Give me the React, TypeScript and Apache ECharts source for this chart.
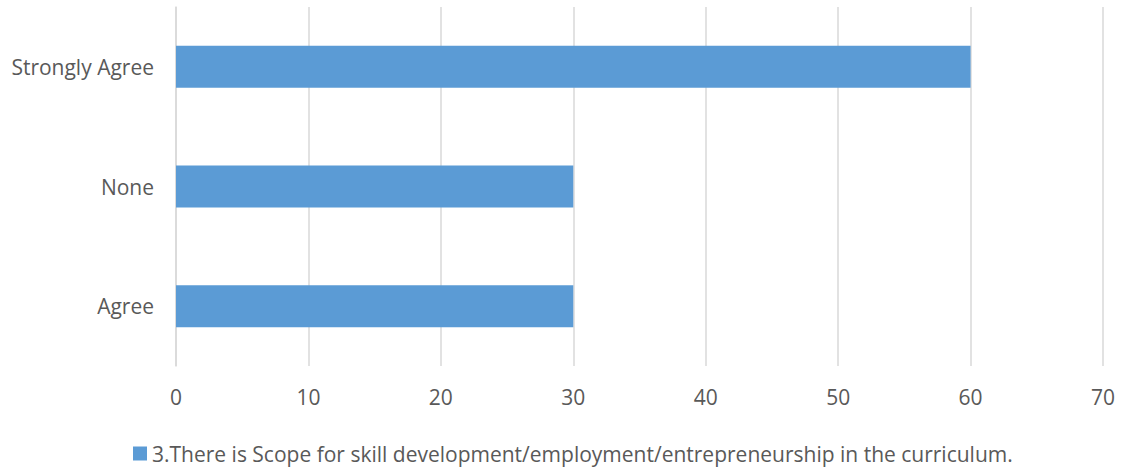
import React, { useEffect, useRef } from "react";
import * as echarts from "echarts";

const categories = ["Agree", "None", "Strongly Agree"];
const values = [30, 30, 60];
const seriesName = "3.There is Scope for skill development/employment/entrepreneurship in the curriculum.";
const xTicks = [0, 10, 20, 30, 40, 50, 60, 70];

export default function App() {
  const ref = useRef<HTMLDivElement>(null);
  useEffect(() => {
    if (!ref.current) return;
    const chart = echarts.init(ref.current, null, { renderer: "svg" });
    const font = "'Open Sans', sans-serif";
    chart.setOption({
      animation: false,
      grid: { left: 176, right: 21, top: 7, bottom: 102, containLabel: false },
      legend: {
        top: 443,
        left: 133,
        padding: 0,
        itemWidth: 14,
        itemHeight: 14,
        itemGap: 10,
        icon: "rect",
        textStyle: { color: "#595959", fontSize: 21, fontFamily: font, padding: [0, 0, 0, 0] },
        data: [seriesName],
      },
      xAxis: {
        type: "value",
        min: xTicks[0],
        max: xTicks[xTicks.length - 1],
        interval: 10,
        axisLine: { show: false },
        axisTick: { show: false },
        axisLabel: { color: "#595959", fontSize: 21, fontFamily: font, margin: 20 },
        splitLine: { show: true, lineStyle: { color: "#d9d9d9", width: 1.5 } },
      },
      yAxis: {
        type: "category",
        data: categories,
        axisLine: { show: true, lineStyle: { color: "#d9d9d9", width: 1.5 } },
        axisTick: { show: false },
        axisLabel: { color: "#595959", fontSize: 21, fontFamily: font, margin: 22 },
      },
      series: [
        {
          name: seriesName,
          type: "bar",
          data: values,
          barWidth: 42,
          itemStyle: { color: "#5b9bd5" },
        },
      ],
    });
    return () => chart.dispose();
  }, []);
  return (
    <div
      ref={ref}
      style={{ position: "fixed", left: 0, top: 0, width: 1124, height: 468, background: "#fff" }}
    />
  );
}
